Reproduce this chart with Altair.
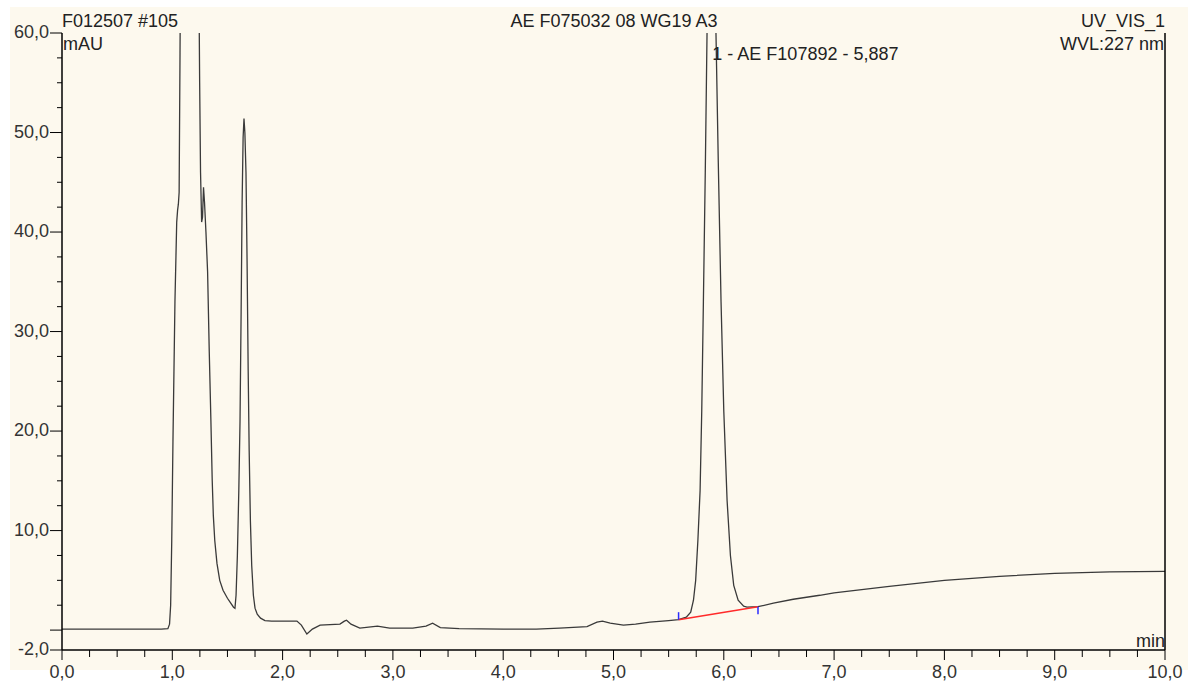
import altair as alt
import pandas as pd

# Chromatogram trace (time in min, signal in mAU)
trace_t = [0.00, 0.50, 0.90, 0.96, 0.975, 0.985, 0.995, 1.006, 1.024, 1.040, 1.048, 1.055,
           1.062, 1.070, 1.080, 1.10, 1.16, 1.22, 1.238, 1.248, 1.256, 1.266, 1.274, 1.283,
           1.292, 1.305, 1.320, 1.335, 1.350, 1.362, 1.372, 1.385, 1.405, 1.43, 1.46, 1.50,
           1.53, 1.555, 1.568, 1.578, 1.590, 1.603, 1.614, 1.624, 1.633, 1.642, 1.650, 1.658,
           1.668, 1.678, 1.688, 1.697, 1.708, 1.720, 1.735, 1.75, 1.77, 1.80, 1.84, 1.90,
           2.00, 2.13, 2.17, 2.22, 2.27, 2.34, 2.52, 2.56, 2.58, 2.62, 2.70, 2.86, 2.97,
           3.18, 3.30, 3.36, 3.43, 3.60, 4.00, 4.30, 4.51, 4.76, 4.85, 4.90, 4.97, 5.09,
           5.20, 5.33, 5.50, 5.59, 5.66, 5.70, 5.725, 5.745, 5.765, 5.785, 5.80, 5.815,
           5.832, 5.848, 5.868, 5.888, 5.908, 5.929, 5.95, 5.975, 6.00, 6.03, 6.06, 6.09,
           6.13, 6.18, 6.21, 6.31, 6.45, 6.63, 6.87, 7.00, 7.50, 8.00, 8.50, 9.00, 9.50, 10.0]
trace_v = [0.1, 0.1, 0.1, 0.15, 0.6, 2.5, 9, 19, 33, 41, 42.2, 42.8,
           44, 58, 78, 90, 80, 88, 70, 55, 46, 41, 41.5, 44.5,
           43, 40, 36, 28, 21, 15, 11.5, 9, 6.7, 5.0, 4.0, 3.2,
           2.7, 2.3, 2.2, 3.5, 7.5, 14, 21, 32, 43, 49.5, 51.4, 50,
           46, 37, 26, 18, 11, 6.5, 3.5, 2.2, 1.6, 1.2, 0.95, 0.9,
           0.9, 0.9, 0.5, -0.4, 0.1, 0.5, 0.6, 0.9, 1.0, 0.6, 0.2, 0.4, 0.2,
           0.2, 0.4, 0.7, 0.25, 0.15, 0.1, 0.1, 0.2, 0.35, 0.8, 0.9, 0.7, 0.5,
           0.6, 0.8, 0.95, 1.05, 1.3, 1.8, 3.0, 5, 9, 14, 22, 33,
           46, 60, 70, 74, 70, 60, 47, 33, 22, 13, 7.5, 4.5,
           3.0, 2.4, 2.3, 2.35, 2.7, 3.1, 3.5, 3.75, 4.4, 5.0, 5.4, 5.7, 5.85, 5.9]

# Integration baseline of peak 1 and its delimiter marks
base_t = [5.59, 6.31]
base_v = [1.05, 2.35]
mark_lo = [1.05, 1.6]
mark_hi = [1.8, 2.35]

# Peak annotation
peak_t = [5.887]
peak_label = ["1 - AE F107892 - 5,887"]

# Axis ticks and labels
x_major = [0, 1, 2, 3, 4, 5, 6, 7, 8, 9, 10]
x_labels = ["0,0", "1,0", "2,0", "3,0", "4,0", "5,0", "6,0", "7,0", "8,0", "9,0", "10,0"]
x_minor = [i * 0.25 for i in range(41) if i % 4 != 0]
y_major = [-2, 0, 10, 20, 30, 40, 50, 60]
y_labels = ["-2,0", "", "10,0", "20,0", "30,0", "40,0", "50,0", "60,0"]
y_minor = [i * 2.5 for i in range(1, 24) if i % 4 != 0]

FONT = "Liberation Sans"
FS = 18
W, H = 1103, 617

trace_df = pd.DataFrame({"t": trace_t, "v": trace_v})
base_df = pd.DataFrame({"t": base_t, "v": base_v})
mark_df = pd.DataFrame({"t": base_t, "lo": mark_lo, "hi": mark_hi})
peak_df = pd.DataFrame({"t": peak_t, "label": peak_label})
xmaj_df = pd.DataFrame({"t": x_major, "label": x_labels})
xmin_df = pd.DataFrame({"t": x_minor})
ymaj_df = pd.DataFrame({"v": y_major, "label": y_labels})
ymin_df = pd.DataFrame({"v": y_minor})
one = pd.DataFrame({"a": [0]})

x_scale = alt.Scale(domain=[0, 10], nice=False, zero=False)
y_scale = alt.Scale(domain=[-2, 60], nice=False, zero=False)

bg = alt.Chart(one).mark_rect(color="#FDF9EE").encode(
    x=alt.value(-52), x2=alt.value(1126), y=alt.value(-26), y2=alt.value(637)
)

trace = alt.Chart(trace_df).mark_line(color="#3a3a3a", strokeWidth=1.3, clip=True).encode(
    x=alt.X("t:Q", scale=x_scale, axis=None),
    y=alt.Y("v:Q", scale=y_scale, axis=None),
)

base = alt.Chart(base_df).mark_line(color="#ff2a2a", strokeWidth=1.5).encode(
    x="t:Q", y="v:Q"
)

marks = alt.Chart(mark_df).mark_rule(color="#2b2bff", strokeWidth=1.5).encode(
    x="t:Q", y="lo:Q", y2="hi:Q"
)

# axis lines
axis_lines = [
    alt.Chart(one).mark_rule(color="black", strokeWidth=1.5).encode(
        x=alt.value(W), y=alt.value(0), y2=alt.value(H)),
    alt.Chart(one).mark_rule(color="black", strokeWidth=1.5).encode(
        x=alt.value(0), y=alt.value(0), y2=alt.value(H)),
    alt.Chart(one).mark_rule(color="black", strokeWidth=1.5).encode(
        x=alt.value(0), x2=alt.value(W), y=alt.value(H)),
]

# ticks
x_maj_ticks = alt.Chart(xmaj_df).mark_rule(color="black", strokeWidth=1).encode(
    x="t:Q", y=alt.value(H), y2=alt.value(H + 10))
x_min_ticks = alt.Chart(xmin_df).mark_rule(color="black", strokeWidth=1).encode(
    x="t:Q", y=alt.value(H), y2=alt.value(H + 7))
y_maj_ticks = alt.Chart(ymaj_df).mark_rule(color="black", strokeWidth=1).encode(
    y="v:Q", x=alt.value(-12), x2=alt.value(0))
y_min_ticks = alt.Chart(ymin_df).mark_rule(color="black", strokeWidth=1).encode(
    y="v:Q", x=alt.value(-5), x2=alt.value(0))

x_lab = alt.Chart(xmaj_df).mark_text(
    font=FONT, fontSize=FS, color="#333333", align="center", baseline="alphabetic"
).encode(x="t:Q", y=alt.value(H + 28), text="label:N")
y_lab = alt.Chart(ymaj_df).mark_text(
    font=FONT, fontSize=FS, color="#333333", align="right", baseline="middle", dx=-1
).encode(y="v:Q", x=alt.value(-12), text="label:N")


def txt(s, x, y, align="left"):
    return alt.Chart(pd.DataFrame({"s": [s]})).mark_text(
        font=FONT, fontSize=FS, color="#222222", align=align, baseline="alphabetic"
    ).encode(text="s:N", x=alt.value(x), y=alt.value(y))


texts = [
    txt("F012507 #105", 0, -6),
    txt("mAU", 1, 17),
    txt("AE F075032 08 WG19 A3", 552, -6, "center"),
    txt("UV_VIS_1", W, -6, "right"),
    txt("WVL:227 nm", W - 1, 17, "right"),
    txt("min", W, 614, "right"),
]

peak_text = alt.Chart(peak_df).mark_text(
    font=FONT, fontSize=FS, color="#222222", align="left", baseline="alphabetic", dx=1
).encode(x="t:Q", y=alt.value(27), text="label:N")

chart = alt.layer(
    bg, trace, base, marks, *axis_lines,
    x_maj_ticks, x_min_ticks, y_maj_ticks, y_min_ticks, x_lab, y_lab,
    peak_text, *texts
).properties(
    width=W, height=H,
    autosize=alt.AutoSizeParams(type="none"),
    padding={"left": 62, "top": 33, "right": 38, "bottom": 34},
).configure_view(stroke=None).configure(background="white")

chart.save("out.html", embed_options={"renderer": "svg", "actions": False})
